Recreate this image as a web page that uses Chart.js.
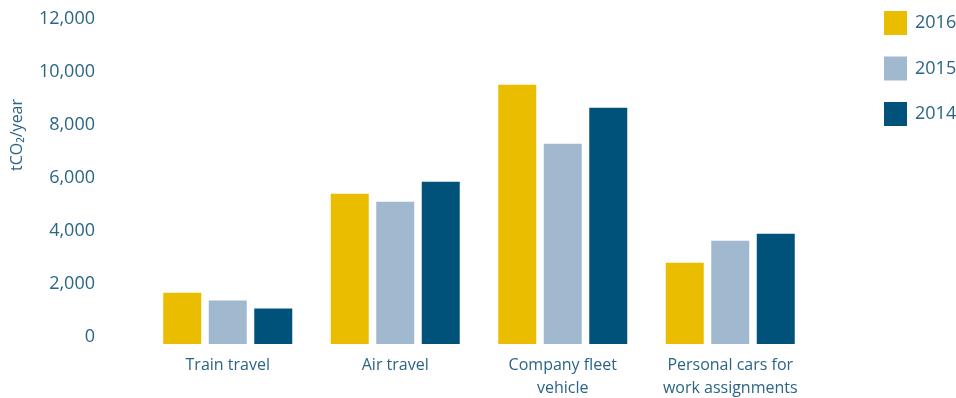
<!DOCTYPE html>
<html>
<head>
<meta charset="utf-8">
<script src="https://cdn.jsdelivr.net/npm/chart.js@4"></script>
<style>
  html, body { margin: 0; padding: 0; background: #fff; }
  #wrap { width: 956px; height: 398px; }
</style>
</head>
<body>
<div id="wrap"><canvas id="c"></canvas></div>
<script>
// data
const categories = ['Train travel', 'Air travel', ['Company fleet', 'vehicle'], ['Personal cars for', 'work assignments']];
const years = ['2016', '2015', '2014'];
const v2016 = [1680, 5410, 9520, 2810];
const v2015 = [1380, 5110, 7300, 3640];
const v2014 = [1080, 5860, 8650, 3900];
const yTicks = [0, 2000, 4000, 6000, 8000, 10000, 12000];
const yTitle = 'tCO\u2082/year';

const colors = ['#ebbd00', '#a0b9ce', '#00527a'];
const textColor = '#2a6587';
const FONT = '"Open Sans", sans-serif';
// bars in the original start a little below the 0 label
const barBase = -256;

const ds = [v2016, v2015, v2014].map((vals, i) => ({
  label: years[i],
  data: vals,
  backgroundColor: colors[i],
  base: barBase,
  barPercentage: 0.835,
  categoryPercentage: 0.815
}));

// legend + y title drawn by hand to sit where the original has them
const extras = {
  id: 'extras',
  afterDraw(chart) {
    const ctx = chart.ctx;
    ctx.save();
    ctx.font = '18px ' + FONT;
    ctx.textBaseline = 'middle';
    ctx.textAlign = 'left';
    chart.data.datasets.forEach((d, i) => {
      const top = 11 + i * 45.5;
      ctx.fillStyle = d.backgroundColor;
      ctx.fillRect(884, top, 23, 24);
      ctx.fillStyle = textColor;
      ctx.fillText(d.label, 915, top + 12);
    });
    ctx.translate(17, 135);
    ctx.rotate(-Math.PI / 2);
    ctx.textAlign = 'center';
    ctx.font = '16px ' + FONT;
    ctx.fillText(yTitle, 0, 0);
    ctx.restore();
  }
};

new Chart(document.getElementById('c'), {
  type: 'bar',
  data: { labels: categories, datasets: ds },
  plugins: [extras],
  options: {
    responsive: true,
    maintainAspectRatio: false,
    animation: false,
    layout: { padding: { left: 40, right: 142, top: 19, bottom: 0 } },
    plugins: { legend: { display: false }, tooltip: { enabled: false } },
    scales: {
      x: {
        grid: { display: false, drawTicks: false },
        border: { display: false },
        afterFit: axis => { axis.height = 54; axis.paddingLeft = 0; axis.paddingRight = 0; },
        ticks: {
          color: textColor,
          font: { family: FONT, size: 16, lineHeight: 1.45 },
          padding: 10,
          maxRotation: 0
        }
      },
      y: {
        min: barBase,
        max: 12000,
        grid: { display: false, drawTicks: false },
        border: { display: false },
        afterBuildTicks: axis => { axis.ticks = yTicks.map(v => ({ value: v })); },
        afterFit: axis => { axis.width = 104; axis.paddingTop = 0; axis.paddingBottom = 0; },
        ticks: {
          color: textColor,
          font: { family: FONT, size: 18 },
          padding: 49,
          callback: v => v.toLocaleString('en-US')
        }
      }
    }
  }
});
</script>
</body>
</html>
